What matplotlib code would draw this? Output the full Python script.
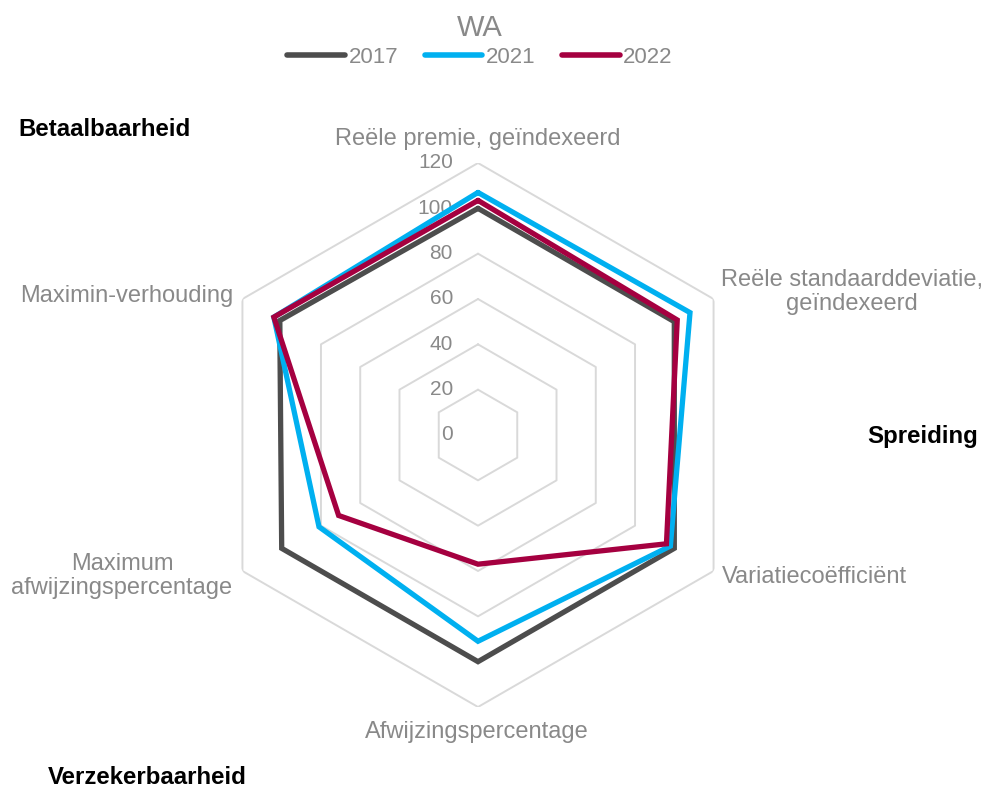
import numpy as np
import matplotlib
matplotlib.use("Agg")
import matplotlib.pyplot as plt
from matplotlib.transforms import offset_copy

plt.rcParams['font.family'] = ['Liberation Sans', 'DejaVu Sans']
plt.rcParams['lines.solid_capstyle'] = 'round'

# ---- data ----
categories = ["Reële premie, geïndexeerd",
              "Reële standaarddeviatie,\ngeïndexeerd",
              "Variatiecoëfficiënt",
              "Afwijzingspercentage",
              "Maximum\nafwijzingspercentage",
              "Maximin-verhouding"]
series_names = ["2017", "2021", "2022"]
values_2017 = [100, 100, 100, 100, 100, 101]
values_2021 = [107, 108, 98, 91, 81, 104]
values_2022 = [103.5, 101.5, 96, 57, 71, 104]
tick_levels = [0, 20, 40, 60, 80, 100, 120]
colors = ["#4D4D4D", "#00B0F0", "#A50040"]
title = "WA"
group_labels = ["Betaalbaarheid", "Spreiding", "Verzekerbaarheid"]

W, H = 989, 791
fig = plt.figure(figsize=(W / 100, H / 100), dpi=100)

cx, cy, R = 478, 435, 272
ax = fig.add_axes([(cx - R) / W, (H - cy - R) / H, 2 * R / W, 2 * R / H],
                  projection='polar')
ax.set_theta_offset(np.pi / 2)
ax.set_theta_direction(-1)
ax.set_ylim(0, tick_levels[-1])
ax.axis('off')

n = len(categories)
theta = np.arange(n) * 2 * np.pi / n
theta_c = np.append(theta, theta[0])

grid_col = "#D9D9D9"
for lv in tick_levels[1:]:
    ax.plot(theta_c, [lv] * (n + 1), color=grid_col, lw=1.4, zorder=1)

text_gray = "#898989"
tick_tr = offset_copy(ax.transData, fig=fig, x=-25, y=0, units='dots')
for lv in tick_levels:
    ax.text(0, lv, str(lv), transform=tick_tr, ha='right', va='center',
            fontsize=15, color=text_gray)

handles = []
for vals, name, col in zip([values_2017, values_2021, values_2022], series_names, colors):
    v = list(vals) + [vals[0]]
    h, = ax.plot(theta_c, v, color=col, lw=3.8, solid_joinstyle='miter',
                 label=name, zorder=3)
    handles.append(h)

# axis labels (pixel positions)
def ftext(x, y, s, **kw):
    fig.text(x / W, 1 - y / H, s, **kw)

lab_kw = dict(fontsize=17, color=text_gray, linespacing=1.15)
ftext(478, 139, categories[0], ha='center', va='center', **lab_kw)
ftext(852, 292, categories[1], ha='center', va='center', **lab_kw)
ftext(722, 577, categories[2], ha='left', va='center', **lab_kw)
ftext(477, 732, categories[3], ha='center', va='center', **lab_kw)
ftext(122, 576, categories[4], ha='center', va='center', **lab_kw)
ftext(233, 296, categories[5], ha='right', va='center', **lab_kw)

bold_kw = dict(fontsize=17.3, color='black', fontweight='bold')
ftext(18, 129, group_labels[0], ha='left', va='center', **bold_kw)
ftext(978, 437, group_labels[1], ha='right', va='center', **bold_kw)
ftext(48, 777, group_labels[2], ha='left', va='center', **bold_kw)

leg = fig.legend(handles=handles, labels=series_names, loc='center',
                 bbox_to_anchor=(480 / W, 1 - 41 / H), ncol=3, frameon=False,
                 fontsize=16, handlelength=2.6, handletextpad=0.15,
                 columnspacing=1.2, title=title, borderpad=0.2,
                 labelspacing=0.2)
leg.get_title().set_fontsize(21)
leg.get_title().set_color(text_gray)
for t in leg.get_texts():
    t.set_color(text_gray)
for lh in leg.get_lines():
    lh.set_linewidth(4)

fig.savefig("out.png", dpi=100)
